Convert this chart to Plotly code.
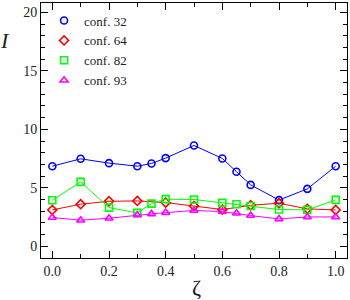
import plotly.graph_objects as go

zeta_full = [0.0, 0.1, 0.2, 0.3, 0.35, 0.4, 0.5, 0.6, 0.65, 0.7, 0.8, 0.9, 1.0]
zeta_red = [0.0, 0.1, 0.2, 0.3, 0.4, 0.5, 0.6, 0.7, 0.8, 0.9, 1.0]

conf32 = [6.85, 7.48, 7.11, 6.85, 7.08, 7.54, 8.62, 7.51, 6.37, 5.25, 3.95, 4.91, 6.85]
conf64 = [3.11, 3.60, 3.85, 3.88, 3.74, 3.45, 3.14, 3.51, 3.68, 3.20, 3.11]
conf82 = [3.94, 5.51, 3.31, 2.86, 3.65, 4.03, 4.00, 3.71, 3.60, 3.45, 3.14, 3.11, 3.97]
conf93 = [2.46, 2.23, 2.40, 2.68, 2.77, 2.88, 3.06, 2.97, 2.83, 2.63, 2.34, 2.51, 2.51]

series = [
    ("conf. 32", zeta_full, conf32, "#0000ff", "circle-open"),
    ("conf. 64", zeta_red, conf64, "#ff0000", "diamond-open"),
    ("conf. 82", zeta_full, conf82, "#00ff00", "square-open"),
    ("conf. 93", zeta_full, conf93, "#ff00ff", "triangle-up-open"),
]

fig = go.Figure()
for name, xs, ys, col, sym in series:
    fig.add_trace(go.Scatter(
        x=xs, y=ys, mode="lines+markers", name=name, showlegend=False,
        line=dict(color=col, width=1),
        marker=dict(symbol=sym, size=7, color=col, line=dict(color=col, width=1.6)),
    ))
for name, xs, ys, col, sym in series:
    fig.add_trace(go.Scatter(
        x=[None], y=[None], mode="markers", name=name,
        marker=dict(symbol=sym, size=7, color=col, line=dict(color=col, width=1.6)),
    ))

font = "Liberation Serif"
axis_common = dict(
    showgrid=False, zeroline=False, showline=True, linecolor="black", linewidth=1,
    mirror="ticks", ticks="inside", tickcolor="black", ticklen=7, tickwidth=1,
    tickfont=dict(family=font, size=14, color="#222"),
)
fig.update_xaxes(range=[-0.04, 1.04], tickvals=[0, 0.2, 0.4, 0.6, 0.8, 1.0],
                 ticktext=["0.0", "0.2", "0.4", "0.6", "0.8", "1.0"],
                 minor=dict(dtick=0.1, tick0=0, ticks="inside", ticklen=4, tickcolor="black"),
                 **axis_common)
fig.update_yaxes(range=[-1, 20.8], tickvals=[0, 5, 10, 15, 20],
                 minor=dict(dtick=1, tick0=0, ticks="inside", ticklen=4, tickcolor="black"),
                 **axis_common)

fig.update_layout(
    width=350, height=300,
    margin=dict(l=41, r=3, t=3, b=42),
    plot_bgcolor="white", paper_bgcolor="white",
    showlegend=True,
    legend=dict(x=0.01, y=0.99, xanchor="left", yanchor="top",
                bgcolor="rgba(0,0,0,0)", font=dict(family=font, size=13, color="#222"),
                itemwidth=30, tracegroupgap=0),
    annotations=[
        dict(text="<i>I</i>", x=(5 - 41) / 306, y=(257.7 - 40) / 254.7,
             xref="paper", yref="paper", showarrow=False, xanchor="center", yanchor="middle",
             font=dict(family=font, size=22, color="#222")),
        dict(text="ζ", x=(196 - 41) / 306, y=(257.7 - 287) / 254.7, xref="paper", yref="paper",
             showarrow=False, xanchor="center", yanchor="middle",
             font=dict(family=font, size=22, color="#222")),
    ],
)

fig.write_html("out.html", config={"displayModeBar": False},
               post_script="document.body.style.margin='0';document.body.style.overflow='hidden';")
